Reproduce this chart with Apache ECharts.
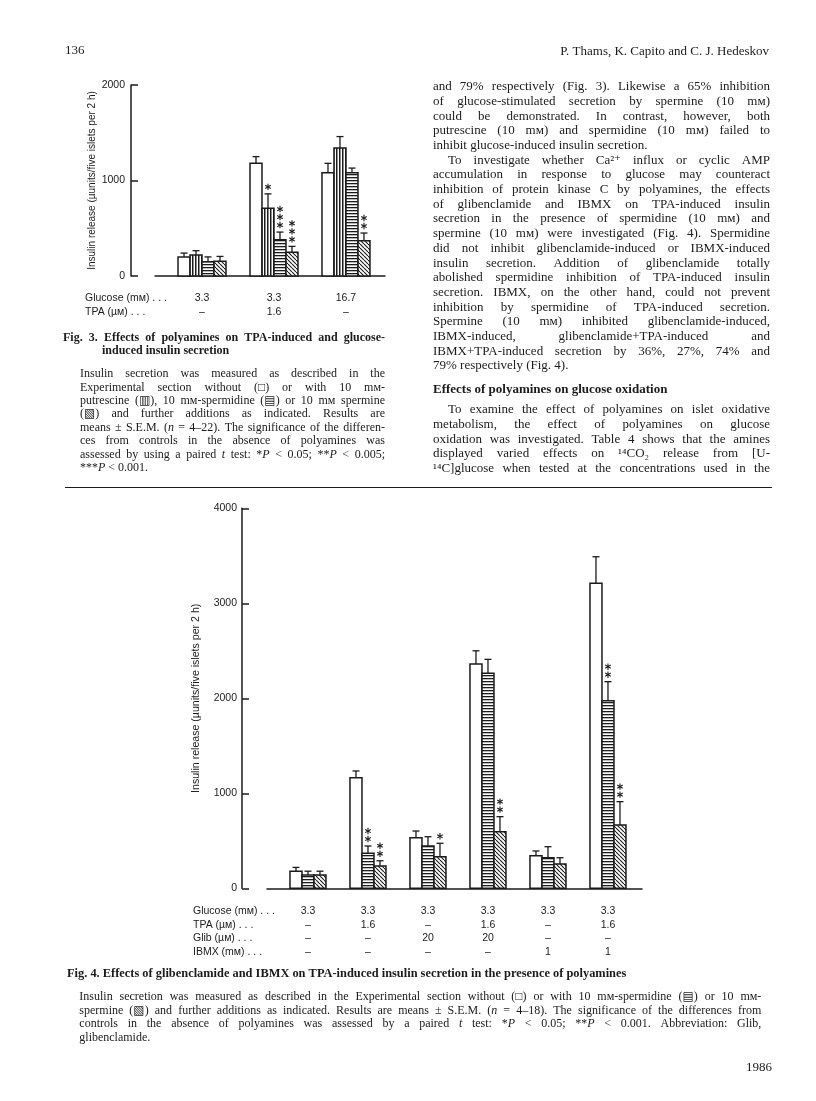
<!DOCTYPE html>
<html>
<head>
<meta charset="utf-8">
<title>Polyamines and insulin secretion - Fig. 3 and Fig. 4</title>
<script src="https://cdn.jsdelivr.net/npm/echarts@6/dist/echarts.min.js"></script>
<style>
html, body { margin: 0; padding: 0; background: #fff; }
#page { width: 816px; height: 1101px; }
</style>
</head>
<body>
<div id="page"></div>
<script>
// ---------- Fig. 3 data (insulin release, µunits/five islets per 2 h) ----------
var fig3Glucose = ['3.3', '3.3', '16.7'];
var fig3TPA = ['–', '1.6', '–'];
var fig3RowLabels = ['Glucose (mᴍ) . . .', 'TPA (µᴍ) . . .'];
var fig3Control = [200, 1180, 1080];
var fig3ControlSem = [40, 70, 100];
var fig3Putrescine = [220, 710, 1340];
var fig3PutrescineSem = [45, 150, 120];
var fig3PutrescineStars = [0, 1, 0];
var fig3Spermidine = [150, 380, 1080];
var fig3SpermidineSem = [50, 80, 50];
var fig3SpermidineStars = [0, 3, 0];
var fig3Spermine = [155, 250, 370];
var fig3SpermineSem = [50, 60, 80];
var fig3SpermineStars = [0, 3, 2];

// ---------- Fig. 4 data ----------
var fig4Glucose = ['3.3', '3.3', '3.3', '3.3', '3.3', '3.3'];
var fig4TPA = ['–', '1.6', '–', '1.6', '–', '1.6'];
var fig4Glib = ['–', '–', '20', '20', '–', '–'];
var fig4IBMX = ['–', '–', '–', '–', '1', '1'];
var fig4RowLabels = ['Glucose (mᴍ) . . .', 'TPA (µᴍ) . . .', 'Glib (µᴍ) . . .', 'IBMX (mᴍ) . . .'];
var fig4Control = [180, 1165, 533, 2360, 343, 3210];
var fig4ControlSem = [40, 70, 70, 140, 50, 280];
var fig4Spermidine = [140, 368, 445, 2263, 322, 1975];
var fig4SpermidineSem = [40, 77, 98, 147, 116, 200];
var fig4SpermidineStars = [0, 2, 0, 0, 0, 2];
var fig4Spermine = [140, 235, 333, 596, 256, 666];
var fig4SpermineSem = [40, 55, 141, 158, 66, 246];
var fig4SpermineStars = [0, 2, 1, 2, 0, 2];

// ---------- page text ----------
var fig3Title = ['Fig. 3. Effects of polyamines on TPA-induced and glucose-', 'induced insulin secretion'];
var fig3Caption = [
  'Insulin secretion was measured as described in the',
  'Experimental section without (□) or with 10 mᴍ-',
  'putrescine (▥), 10 mᴍ-spermidine (▤) or 10 mᴍ spermine',
  '(▧) and further additions as indicated. Results are',
  'means ± S.E.M. (_n_ = 4–22). The significance of the differen-',
  'ces from controls in the absence of polyamines was',
  'assessed by using a paired _t_ test: *_P_ < 0.05; **_P_ < 0.005;',
  '***_P_ < 0.001.'
];
var rightPara1 = [
  'and 79% respectively (Fig. 3). Likewise a 65% inhibition',
  'of glucose-stimulated secretion by spermine (10 mᴍ)',
  'could be demonstrated. In contrast, however, both',
  'putrescine (10 mᴍ) and spermidine (10 mᴍ) failed to',
  'inhibit glucose-induced insulin secretion.'
];
var rightPara2 = [
  'To investigate whether Ca²⁺ influx or cyclic AMP',
  'accumulation in response to glucose may counteract',
  'inhibition of protein kinase C by polyamines, the effects',
  'of glibenclamide and IBMX on TPA-induced insulin',
  'secretion in the presence of spermidine (10 mᴍ) and',
  'spermine (10 mᴍ) were investigated (Fig. 4). Spermidine',
  'did not inhibit glibenclamide-induced or IBMX-induced',
  'insulin secretion. Addition of glibenclamide totally',
  'abolished spermidine inhibition of TPA-induced insulin',
  'secretion. IBMX, on the other hand, could not prevent',
  'inhibition by spermidine of TPA-induced secretion.',
  'Spermine (10 mᴍ) inhibited glibenclamide-induced,',
  'IBMX-induced, glibenclamide+TPA-induced and',
  'IBMX+TPA-induced secretion by 36%, 27%, 74% and',
  '79% respectively (Fig. 4).'
];
var rightHeading = 'Effects of polyamines on glucose oxidation';
var rightPara3 = [
  'To examine the effect of polyamines on islet oxidative',
  'metabolism, the effect of polyamines on glucose',
  'oxidation was investigated. Table 4 shows that the amines',
  'displayed varied effects on ¹⁴CO₂ release from [U-',
  '¹⁴C]glucose when tested at the concentrations used in the'
];
var fig4Title = 'Fig. 4. Effects of glibenclamide and IBMX on TPA-induced insulin secretion in the presence of polyamines';
var fig4Caption = [
  'Insulin secretion was measured as described in the Experimental section without (□) or with 10 mᴍ-spermidine (▤) or 10 mᴍ-',
  'spermine (▧) and further additions as indicated. Results are means ± S.E.M. (_n_ = 4–18). The significance of the differences from',
  'controls in the absence of polyamines was assessed by a paired _t_ test: *_P_ < 0.05; **_P_ < 0.001. Abbreviation: Glib,',
  'glibenclamide.'
];

var ink = '#1b1b1b';
var SERIF = '"Liberation Serif", "DejaVu Serif", serif';
var SANS = '"Liberation Sans", "DejaVu Sans", sans-serif';

// hatch fills
function makeFill(kind) {
  if (kind === 'open') return '#fff';
  var c = document.createElement('canvas');
  var g = c.getContext('2d');
  if (kind === 'vertical') {
    c.width = 3; c.height = 3;
    g.fillStyle = '#fff'; g.fillRect(0, 0, 3, 3);
    g.fillStyle = ink; g.fillRect(0, 0, 1.5, 3);
  } else if (kind === 'horizontal') {
    c.width = 3; c.height = 3;
    g.fillStyle = '#fff'; g.fillRect(0, 0, 3, 3);
    g.fillStyle = ink; g.fillRect(0, 0, 3, 1.3);
  } else {
    c.width = 4; c.height = 4;
    g.fillStyle = '#fff'; g.fillRect(0, 0, 4, 4);
    g.strokeStyle = ink; g.lineWidth = 1.1;
    g.beginPath();
    [-4, 0, 4].forEach(function (o) { g.moveTo(o, 0); g.lineTo(o + 4, 4); });
    g.stroke();
  }
  return { image: c, repeat: 'repeat' };
}

function starLines(cx, cy, r) {
  return [90, 30, 150].map(function (deg) {
    var a = deg * Math.PI / 180, dx = r * Math.cos(a), dy = r * Math.sin(a);
    return { type: 'line', shape: { x1: cx - dx, y1: cy - dy, x2: cx + dx, y2: cy + dy },
      style: { stroke: ink, lineWidth: 1.1 } };
  });
}

// one custom series = one polyamine condition, bars + error bars + stars
function barSeries(name, values, sems, stars, k, n, frac, fill, axisIndex) {
  var data = values.map(function (v, i) {
    return [i, v, v + sems[i], stars ? stars[i] : 0];
  });
  return {
    name: name,
    type: 'custom',
    xAxisIndex: axisIndex,
    yAxisIndex: axisIndex,
    silent: true,
    clip: false,
    encode: { x: 0, y: [1, 2] },
    data: data,
    renderItem: function (params, api) {
      var i = api.value(0), v = api.value(1), top = api.value(2), ns = api.value(3);
      var bw = api.size([1, 0])[0] * frac;
      var base = api.coord([i, 0]);
      var p = api.coord([i, v]);
      var t = api.coord([i, top]);
      var cx = base[0] + (k - (n - 1) / 2) * bw;
      var kids = [
        { type: 'line', shape: { x1: cx, y1: p[1], x2: cx, y2: t[1] }, style: { stroke: ink, lineWidth: 1.3 } },
        { type: 'line', shape: { x1: cx - 3.5, y1: t[1], x2: cx + 3.5, y2: t[1] }, style: { stroke: ink, lineWidth: 1.3 } },
        { type: 'rect', shape: { x: cx - bw / 2, y: p[1], width: bw, height: base[1] - p[1] },
          style: { fill: fill, stroke: ink, lineWidth: 1.5 } }
      ];
      for (var s = 0; s < ns; s++) {
        kids = kids.concat(starLines(cx, t[1] - 7 - 8 * s, 3.2));
      }
      return { type: 'group', children: kids };
    }
  };
}

// justified serif text lines, word by word
var measureCtx = document.createElement('canvas').getContext('2d');
function fontStr(size, italic, bold) {
  return (italic ? 'italic ' : '') + (bold ? 'bold ' : '') + size + 'px ' + SERIF;
}
function textLine(line, x, y, width, size, bold, justify) {
  var italic = false;
  var words = line.split(' ').map(function (w) {
    var segs = [];
    w.split('_').forEach(function (part, j) {
      if (j > 0) italic = !italic;
      if (part) segs.push({ t: part, it: italic });
    });
    var sum = 0;
    segs.forEach(function (s) {
      measureCtx.font = fontStr(size, s.it, bold);
      s.w = measureCtx.measureText(s.t).width;
      sum += s.w;
    });
    return { segs: segs, w: sum };
  });
  measureCtx.font = fontStr(size, false, bold);
  var gap = measureCtx.measureText(' ').width;
  if (justify && words.length > 1) {
    var total = 0;
    words.forEach(function (w) { total += w.w; });
    gap = Math.max(1, (width - total) / (words.length - 1));
  }
  var out = [], cx = x;
  words.forEach(function (w) {
    w.segs.forEach(function (s) {
      out.push({ type: 'text', x: cx, y: y, silent: true,
        style: { text: s.t, font: fontStr(size, s.it, bold), fill: ink,
          textAlign: 'left', textVerticalAlign: 'middle', align: 'left', verticalAlign: 'middle' } });
      cx += s.w;
    });
    cx += gap;
  });
  return out;
}
function paragraph(lines, x, y0, step, width, size, indent, lastFree) {
  var out = [];
  lines.forEach(function (l, i) {
    var dx = (i === 0) ? indent : 0;
    var last = lastFree && i === lines.length - 1;
    out = out.concat(textLine(l, x + dx, y0 + i * step, width - dx, size, false, !last));
  });
  return out;
}
function plain(text, x, y, size, family, align, weight) {
  return { type: 'text', x: x, y: y, silent: true,
    style: { text: text, font: (weight || '') + ' ' + size + 'px ' + family, fill: ink,
      textAlign: align, textVerticalAlign: 'middle', align: align, verticalAlign: 'middle' } };
}

var graphics = [];
graphics.push(plain('136', 65, 51, 13, SERIF, 'left'));
graphics.push(plain('P. Thams, K. Capito and C. J. Hedeskov', 769, 52, 13, SERIF, 'right'));
graphics = graphics.concat(textLine(fig3Title[0], 63, 338, 322, 12, true, true));
graphics = graphics.concat(textLine(fig3Title[1], 102, 351, 280, 12, true, false));
graphics = graphics.concat(paragraph(fig3Caption, 80, 374, 13.4, 305, 12, 0, true));
graphics = graphics.concat(paragraph(rightPara1, 433, 86.7, 14.7, 337, 13, 0, true));
graphics = graphics.concat(paragraph(rightPara2, 433, 160.2, 14.7, 337, 13, 15, true));
graphics = graphics.concat(textLine(rightHeading, 433, 390, 337, 13, true, false));
graphics = graphics.concat(paragraph(rightPara3, 433, 410, 14.6, 337, 13, 15, false));
graphics.push({ type: 'line', silent: true, shape: { x1: 65, y1: 487.5, x2: 772, y2: 487.5 },
  style: { stroke: ink, lineWidth: 1.2 } });
graphics = graphics.concat(textLine(fig4Title, 67, 974, 600, 12.4, true, false));
graphics = graphics.concat(paragraph(fig4Caption, 79.3, 996.7, 13.7, 682, 12, 0, true));
graphics.push(plain('1986', 772, 1068, 13, SERIF, 'right'));
fig3RowLabels.forEach(function (t, r) { graphics.push(plain(t, 85, 298 + 14 * r, 10.5, SANS, 'left')); });
fig4RowLabels.forEach(function (t, r) { graphics.push(plain(t, 193, 911 + 13.7 * r, 10.5, SANS, 'left')); });

function xAxisFor(gridIndex, min, max, cats, rows, lh, margin) {
  return {
    gridIndex: gridIndex, type: 'value', min: min, max: max,
    axisLine: { show: true, onZero: false, lineStyle: { color: ink, width: 1.5 } },
    axisTick: { show: false }, splitLine: { show: false },
    axisLabel: {
      customValues: cats.map(function (c, i) { return i; }),
      formatter: function (v) {
        var i = Math.round(v);
        return rows.map(function (r) { return r[i]; }).join('\n');
      },
      color: ink, fontFamily: SANS, fontSize: 10.5, lineHeight: lh, margin: margin
    }
  };
}
function yAxisFor(gridIndex, max, offset, nameGap, labelMargin, nameSize) {
  return {
    gridIndex: gridIndex, type: 'value', min: 0, max: max, interval: 1000, offset: offset,
    name: 'Insulin release (µunits/five islets per 2 h)',
    nameLocation: 'middle', nameGap: nameGap,
    nameTextStyle: { color: ink, fontFamily: SANS, fontSize: nameSize },
    axisLine: { show: true, onZero: false, lineStyle: { color: ink, width: 1.5 } },
    axisTick: { show: true, inside: true, length: 7, lineStyle: { color: ink, width: 1.5 } },
    splitLine: { show: false },
    axisLabel: { color: ink, fontFamily: SANS, fontSize: 10.5, margin: labelMargin,
      formatter: function (v) { return String(v); } }
  };
}

var chart = echarts.init(document.getElementById('page'), null, { renderer: 'canvas' });
var option = {
  animation: false,
  backgroundColor: '#fff',
  grid: [
    { left: 155, top: 85, width: 230, height: 191 },
    { left: 267, top: 508.3, width: 375, height: 380 }
  ],
  xAxis: [
    xAxisFor(0, -0.653, 2.542, fig3Glucose, [fig3Glucose, fig3TPA], 14, 15),
    xAxisFor(1, -0.683, 5.567, fig4Glucose, [fig4Glucose, fig4TPA, fig4Glib, fig4IBMX], 13.7, 15.8)
  ],
  yAxis: [
    yAxisFor(0, 2000, 24, 33, 6, 10),
    yAxisFor(1, 4000, 25, 40, 5, 10.6)
  ],
  series: [
    barSeries('Control', fig3Control, fig3ControlSem, null, 0, 4, 1 / 6, makeFill('open'), 0),
    barSeries('Putrescine', fig3Putrescine, fig3PutrescineSem, fig3PutrescineStars, 1, 4, 1 / 6, makeFill('vertical'), 0),
    barSeries('Spermidine', fig3Spermidine, fig3SpermidineSem, fig3SpermidineStars, 2, 4, 1 / 6, makeFill('horizontal'), 0),
    barSeries('Spermine', fig3Spermine, fig3SpermineSem, fig3SpermineStars, 3, 4, 1 / 6, makeFill('diagonal'), 0),
    barSeries('Control', fig4Control, fig4ControlSem, null, 0, 3, 1 / 5, makeFill('open'), 1),
    barSeries('Spermidine', fig4Spermidine, fig4SpermidineSem, fig4SpermidineStars, 1, 3, 1 / 5, makeFill('horizontal'), 1),
    barSeries('Spermine', fig4Spermine, fig4SpermineSem, fig4SpermineStars, 2, 3, 1 / 5, makeFill('diagonal'), 1)
  ],
  graphic: { elements: graphics }
};
chart.setOption(option);
</script>
</body>
</html>
